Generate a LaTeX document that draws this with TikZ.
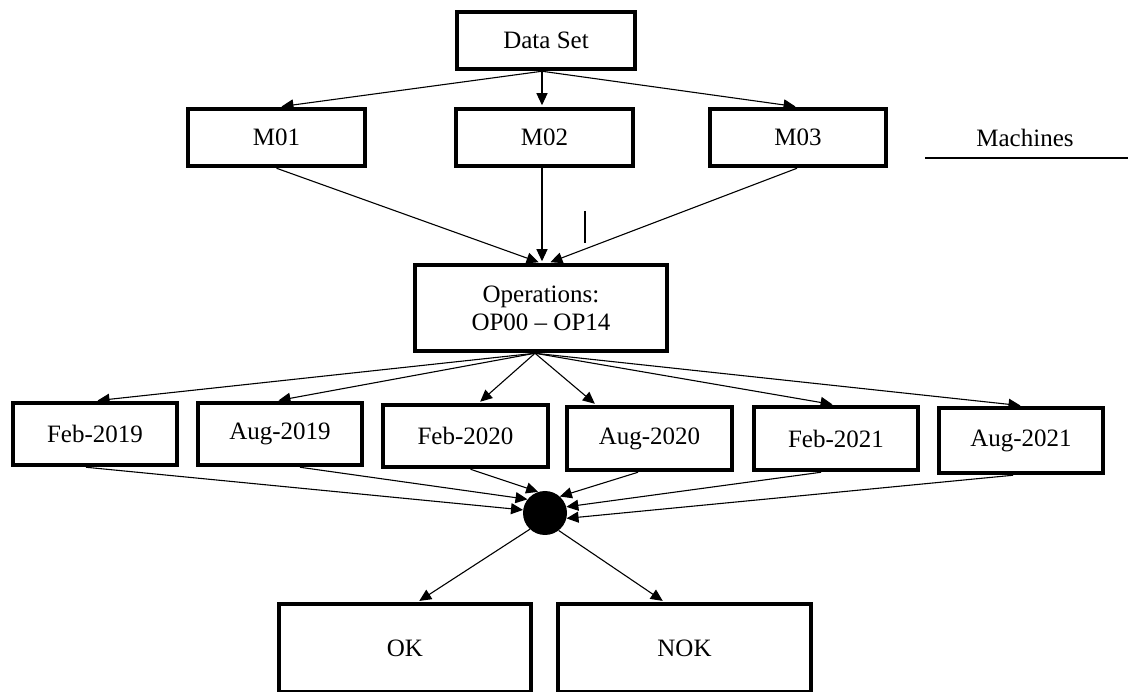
\documentclass[tikz,border=0pt]{standalone}
\usepackage{fontspec}
\setmainfont{Liberation Serif}
\usetikzlibrary{arrows.meta,calc}
\begin{document}
\begin{tikzpicture}[x=1pt,y=-1pt,
  box/.style={draw,line width=4.5pt,fill=white,inner sep=0pt,align=center,
    font=\fontsize{25}{28}\selectfont},
  arr/.style={line width=1.1pt,-{Triangle[length=12pt,width=11pt]},shorten >=1.5pt},
  thin/.style={line width=1.1pt}]
\useasboundingbox (0,0) rectangle (1128,692);
% top level
\node[box,minimum width=178pt,minimum height=57pt] (data) at (546,40.5) {Data Set};
\node[box,minimum width=177pt,minimum height=57pt] (m1) at (276.5,137.5) {M01};
\node[box,minimum width=177pt,minimum height=57pt] (m2) at (544.5,137.5) {M02};
\node[box,minimum width=176pt,minimum height=57pt] (m3) at (798,137.5) {M03};
\node[font=\fontsize{25}{28}\selectfont] (mach) at (1025,138) {Machines};
\coordinate (ml1) at (925,158);
\coordinate (ml2) at (1128,158);
\draw[thin] (ml1) -- (ml2);
\coordinate (vt1) at (585,211);
\coordinate (vt2) at (585,243);
\draw[thin] (vt1) -- (vt2);
% operations
\node[box,minimum width=252pt,minimum height=86pt] (ops) at (541,308) {Operations:\\OP00 -- OP14};
% dates
\node[box,minimum width=164pt,minimum height=62pt] (d1) at (95,434) {Feb-2019};
\node[box,minimum width=164pt,minimum height=62pt] (d2) at (280,434) {Aug-2019};
\node[box,minimum width=165pt,minimum height=62pt] (d3) at (465.5,436) {Feb-2020};
\node[box,minimum width=165pt,minimum height=63pt] (d4) at (649.5,438.5) {Aug-2020};
\node[box,minimum width=164pt,minimum height=63pt] (d5) at (836,438.5) {Feb-2021};
\node[box,minimum width=164pt,minimum height=65pt] (d6) at (1021,440.5) {Aug-2021};
% dot
\node[circle,fill=black,minimum size=44pt,inner sep=0pt] (dot) at (545,513) {};
% results
\node[box,minimum width=252pt,minimum height=88pt] (ok) at (405,648) {OK};
\node[box,minimum width=253pt,minimum height=88pt] (nok) at (684.5,648) {NOK};
% connectors
\draw[arr] ($(data.south)+(-4,0)$) -- ($(m1.north)+(3.5,0)$);
\draw[arr] ($(data.south)+(-4,0)$) -- ($(m2.north)+(-2.5,0)$);
\draw[arr] ($(data.south)+(-4,0)$) -- ($(m3.north)+(-1,0)$);
\draw[arr] (m1.south) -- ($(ops.north)+(-1,0)$);
\draw[arr] ($(m2.south)+(-2.5,0)$) -- ($(ops.north)+(1,0)$);
\draw[arr] ($(m3.south)+(-1,0)$) -- ($(ops.north)+(8,0)$);
\draw[arr] ($(ops.south)+(-6,0)$) -- ($(d1.north)+(1,0)$);
\draw[arr] ($(ops.south)+(-6,0)$) -- ($(d2.north)+(-3,0)$);
\draw[arr] ($(ops.south)+(-6,0)$) -- ($(d3.north)+(13.5,0)$);
\draw[arr] ($(ops.south)+(-6,0)$) -- ($(d4.north)+(-53.5,0)$);
\draw[arr] ($(ops.south)+(-6,0)$) -- ($(d5.north)+(-2,0)$);
\draw[arr] ($(ops.south)+(-6,0)$) -- ($(d6.north)+(1,0)$);
\draw[arr,shorten >=0pt] ($(d1.south)+(-9,0)$) -- (dot.172);
\draw[arr,shorten >=0pt] ($(d2.south)+(20,0)$) -- (dot.142);
\draw[arr,shorten >=0pt] ($(d3.south)+(5,0)$) -- (dot.108);
\draw[arr,shorten >=0pt] ($(d4.south)+(-11.5,0)$) -- (dot.48);
\draw[arr,shorten >=0pt] ($(d5.south)+(-15,0)$) -- (dot.16);
\draw[arr,shorten >=0pt] ($(d6.south)+(-8,0)$) -- (dot.-14);
\draw[arr] (dot.-133) -- ($(ok.north)+(13,0)$);
\draw[arr] (dot.-52) -- ($(nok.north)+(-20.5,0)$);
\end{tikzpicture}
\end{document}
